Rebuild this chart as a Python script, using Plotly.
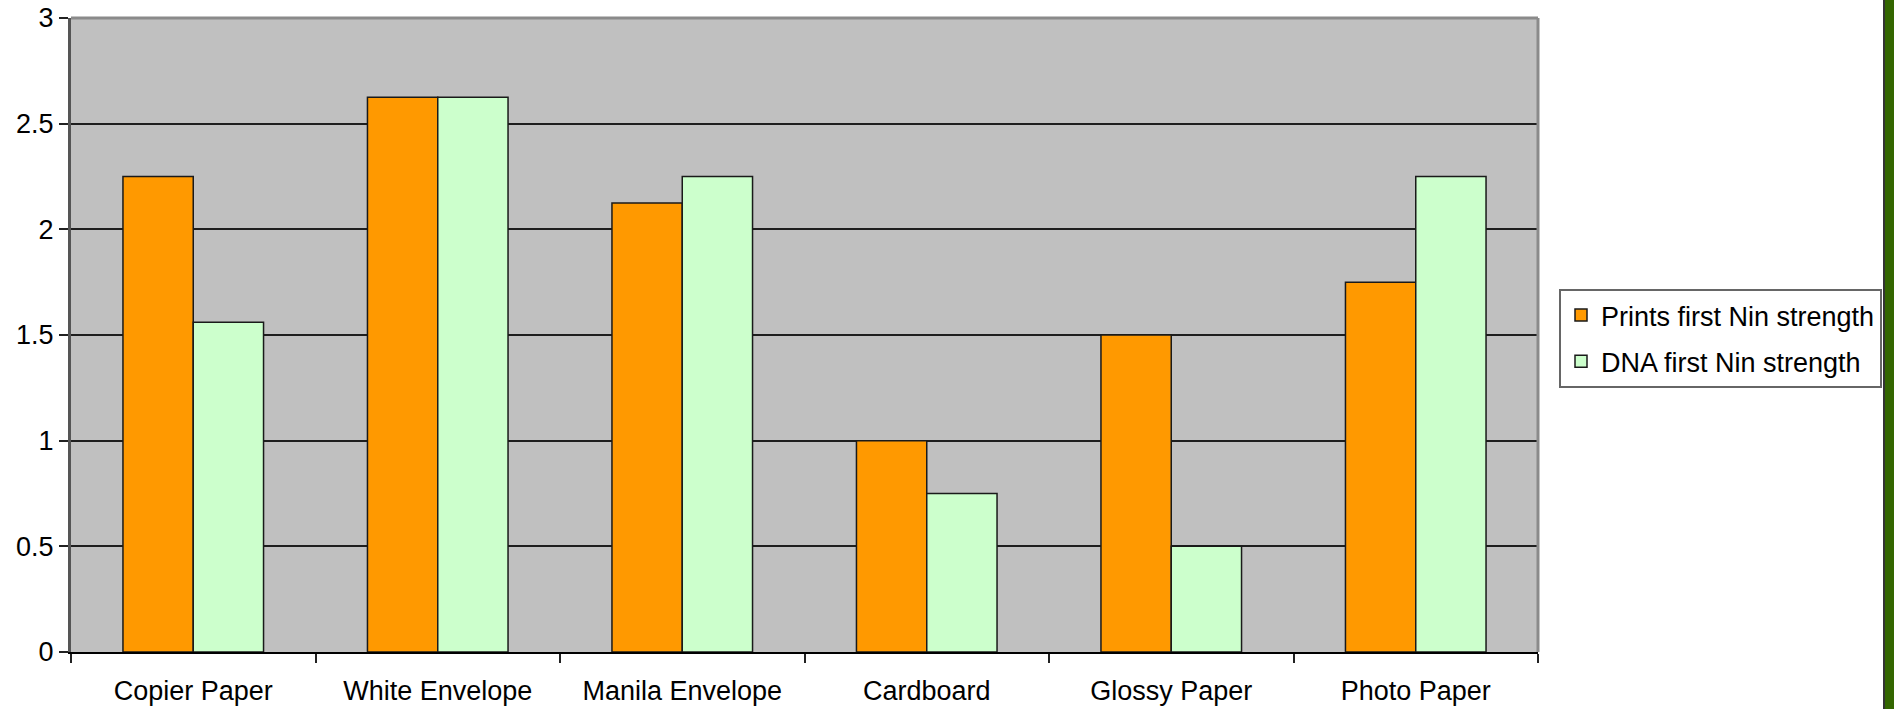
import plotly.graph_objects as go

# Material categories and first-appearance strengths for each test
categories = ["Copier Paper", "White Envelope", "Manila Envelope",
              "Cardboard", "Glossy Paper", "Photo Paper"]
prints_strength = [2.25, 2.625, 2.125, 1.0, 1.5, 1.75]
dna_strength = [1.56, 2.625, 2.25, 0.75, 0.5, 2.25]
series_names = ["Prints first Nin strength", "DNA first Nin strength"]
y_ticks = [0, 0.5, 1, 1.5, 2, 2.5, 3]
y_ticklabels = ["0", "0.5", "1", "1.5", "2", "2.5", "3"]

W, H = 1894, 709
L, R, T, B = 71, 356, 18, 57
plot_w = W - L - R
plot_h = H - T - B

FONT = dict(family="Liberation Sans, Arial, sans-serif", size=27, color="black")

fig = go.Figure()
fig.add_trace(go.Bar(
    x=categories, y=prints_strength, name=series_names[0], legendgroup="a",
    marker=dict(color="#ff9900", line=dict(color="#1a1a1a", width=1.5)),
))
fig.add_trace(go.Bar(
    x=categories, y=dna_strength, name=series_names[1], legendgroup="b",
    marker=dict(color="#ccffcc", line=dict(color="#1a1a1a", width=1.5)),
))


def px_to_paper_x(px):
    return (px - L) / plot_w


shapes = [
    # gray frame on top and right of the plot area
    dict(type="line", xref="paper", yref="paper", x0=0, x1=1, y0=1, y1=1,
         line=dict(color="#8a8a8a", width=3), layer="above"),
    dict(type="line", xref="paper", yref="paper", x0=1, x1=1, y0=0, y1=1,
         line=dict(color="#8a8a8a", width=3), layer="above"),
    # dark green page border at the right edge
    dict(type="rect", xref="paper", yref="paper",
         x0=px_to_paper_x(1884), x1=px_to_paper_x(1900),
         y0=-B / plot_h - 0.1, y1=1 + T / plot_h + 0.1,
         fillcolor="#336600", line=dict(color="#333333", width=2), layer="above"),
]

fig.update_layout(
    width=W, height=H,
    margin=dict(l=L, r=R, t=T, b=B, pad=0, autoexpand=False),
    paper_bgcolor="white",
    plot_bgcolor="#c0c0c0",
    font=FONT,
    barmode="group",
    bargap=0.425,
    bargroupgap=0,
    showlegend=True,
    legend=dict(
        x=px_to_paper_x(1559), xanchor="left",
        y=1 - (289 - T) / plot_h, yanchor="top",
        bgcolor="white", bordercolor="#666666", borderwidth=2,
        font=FONT, tracegroupgap=8, itemwidth=30,
    ),
    shapes=shapes,
    xaxis=dict(
        type="category", automargin=False,
        showline=True, linecolor="black", linewidth=2,
        ticks="outside", tickson="boundaries", ticklen=9,
        tickcolor="#222222", tickwidth=2,
        showgrid=False, zeroline=False,
        ticklabelstandoff=14,
        tickfont=FONT,
    ),
    yaxis=dict(
        range=[0, 3], automargin=False,
        tickvals=y_ticks, ticktext=y_ticklabels,
        showline=True, linecolor="#555555", linewidth=3,
        ticks="outside", ticklen=9, tickcolor="#222222", tickwidth=2,
        showgrid=True, gridcolor="#1e1e1e", gridwidth=2,
        zeroline=False,
        ticklabelstandoff=0,
        tickfont=FONT,
    ),
)

fig.write_html("out.html")
